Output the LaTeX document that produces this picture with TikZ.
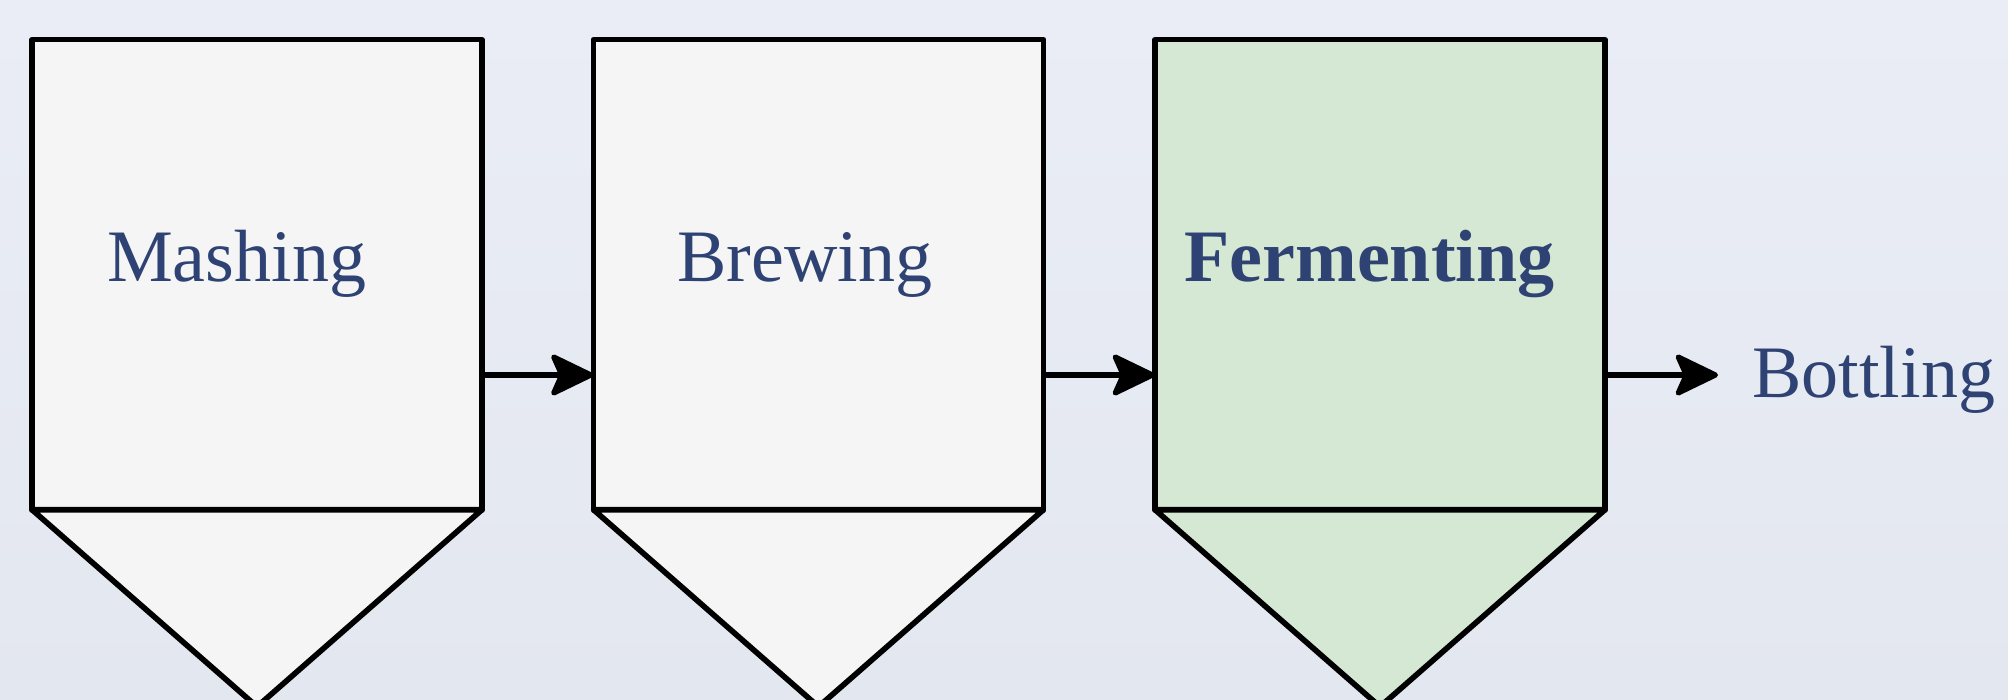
\documentclass[tikz,border=0pt]{standalone}
\usepackage{fontspec}
\setmainfont{Liberation Serif}
\usetikzlibrary{arrows.meta,calc}

\definecolor{bgtop}{HTML}{EAEDF5}
\definecolor{bgbot}{HTML}{E3E7F0}
\definecolor{tankgray}{HTML}{F5F5F5}
\definecolor{tankgreen}{HTML}{D5E8D4}
\definecolor{labelblue}{HTML}{2E4373}

\tikzset{
  tank/.style={draw=black, line width=2.8pt, line join=round,
    minimum width=225pt, minimum height=235pt, inner sep=0pt, outer sep=0pt},
  cone/.style={draw=black, line width=2.8pt, line join=round},
  stage/.style={text=labelblue, anchor=base, inner sep=0pt,
    font=\fontsize{37}{44}\selectfont},
  flow/.style={draw=black, line width=2.6pt,
    -{Stealth[length=24pt, width=23pt, inset=5pt, round]}},
}

\begin{document}
\begin{tikzpicture}[x=0.5pt, y=-0.5pt]
  \useasboundingbox (0,0) rectangle (2008,700);
  \shade[top color=bgtop, bottom color=bgbot] (0,0) rectangle (2008,700);
  \clip (0,0) rectangle (2008,700);

  % the three tanks: a body with a conical bottom
  \node[tank, fill=tankgray]  (mash) at (257,274.7)  {};
  \node[tank, fill=tankgray]  (brew) at (818.5,274.7) {};
  \node[tank, fill=tankgreen] (ferm) at (1380,274.7) {};

  \foreach \t/\c in {mash/tankgray, brew/tankgray, ferm/tankgreen}{
    \filldraw[cone, fill=\c] (\t.south west) -- (\t.south east)
      -- ($(\t.south)+(0,197)$) -- cycle;
  }

  % stage names
  \node[stage] (mashlabel) at (236.5,282) {Mashing};
  \node[stage] (brewlabel) at (805,282) {Brewing};
  \node[stage] (fermlabel) at (1369.5,282) {\textbf{Fermenting}};
  \node[stage, anchor=base west] (bottle) at (1752,397) {Bottling};

  % product flow between the stages
  \coordinate (flowline) at (0,375);
  \draw[flow] (mash.east |- flowline) -- (brew.west |- flowline);
  \draw[flow] (brew.east |- flowline) -- (ferm.west |- flowline);
  \draw[flow] (ferm.east |- flowline) -- ([xshift=-17pt]bottle.base west |- flowline);
\end{tikzpicture}
\end{document}
